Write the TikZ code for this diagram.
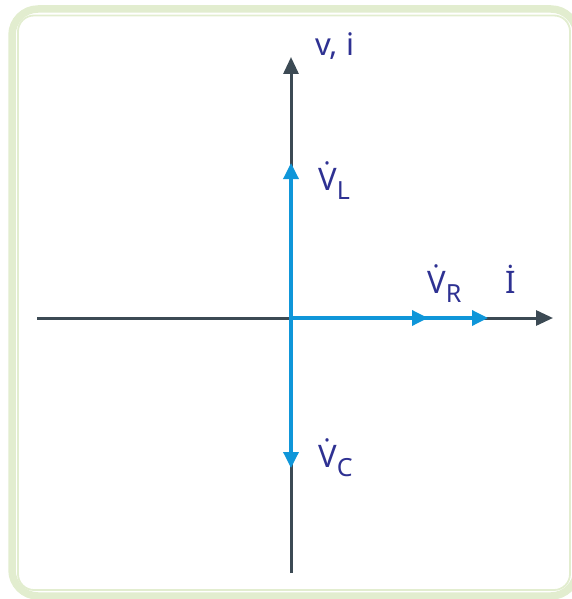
\documentclass[tikz,border=0pt]{standalone}
\usepackage{fontspec}
\setmainfont{Noto Sans}
\usetikzlibrary{arrows.meta}
\definecolor{axisgray}{HTML}{3C4A54}
\definecolor{phasorblue}{HTML}{0F96D9}
\definecolor{labelblue}{HTML}{2E3192}
\definecolor{framegreen}{HTML}{E2EDCF}
\newcommand\subsz[1]{\textsubscript{\fontsize{25}{25}\selectfont #1}}
\begin{document}
\begin{tikzpicture}[x=1pt,y=-1pt,every node/.style={font=\fontsize{31}{31}\selectfont,text=labelblue,inner sep=0pt,anchor=base west}]
\useasboundingbox (0,0) rectangle (572,599);
\draw[framegreen,line width=7.5pt,rounded corners=26pt] (12,9) rectangle (577,596);
\draw[framegreen,line width=1.8pt,rounded corners=16pt] (18,15.5) rectangle (570,590);
\coordinate (o) at (291,318);
\coordinate (xl) at (37,318);
\coordinate (xr) at (553,318);
\coordinate (yt) at (291,57);
\coordinate (yb) at (291,573);
\coordinate (vl) at (291,163);
\coordinate (vc) at (291,468);
\coordinate (vr) at (428,318);
\coordinate (ii) at (488,318);
\draw[axisgray,line width=3pt,-{Triangle[length=17pt,width=15pt]}] (xl)--(xr);
\draw[axisgray,line width=3pt,-{Triangle[length=17pt,width=15pt]}] (yb)--(yt);
\foreach \a/\b in {o/vl,o/vc,o/vr,o/ii}
  \draw[phasorblue,line width=3.4pt,-{Triangle[length=16pt,width=15pt]}] (\a)--(\b);
\node (vi) at (315,56) {v, i};
\node (lvl) at (318,190) {V^^^^0307\subsz{L}};
\node (lvr) at (427,293) {V^^^^0307\subsz{R}};
\node (li) at (505,293) {^^^^0130};
\node (lvc) at (318,467) {V^^^^0307\subsz{C}};
\end{tikzpicture}
\end{document}
